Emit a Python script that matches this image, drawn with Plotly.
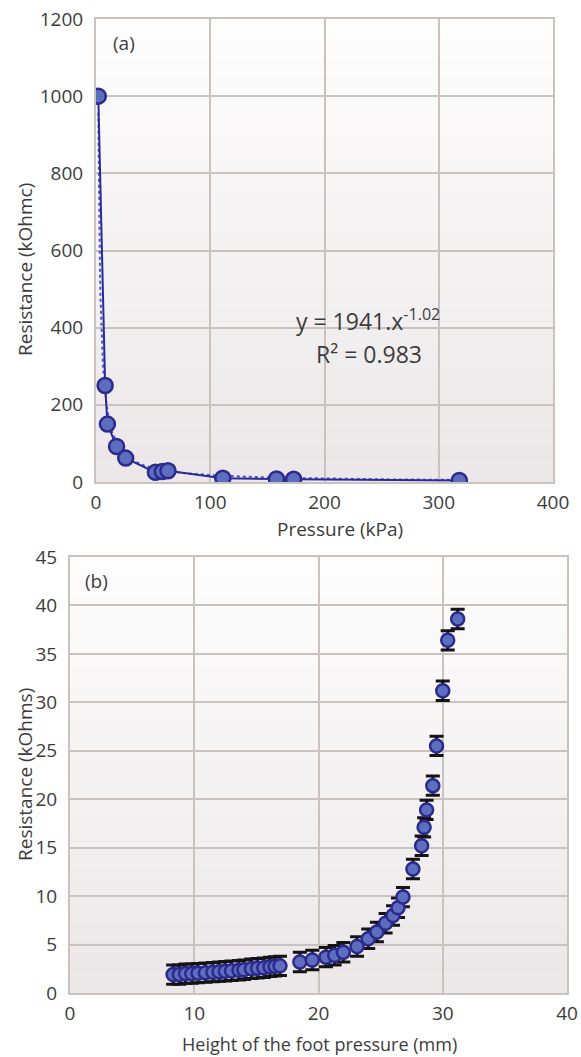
import plotly.graph_objects as go

# (a) resistance vs pressure
pressure = [2, 8, 10, 18, 26, 52, 58, 63, 111, 158, 173, 318]
resistance_a = [1000, 250, 150, 92, 62, 25, 27, 29, 10, 8, 7, 4]
fit_a, fit_b = 1941, -1.02

# (b) resistance vs height of foot pressure
height = [8.3, 8.8, 9.3, 9.8, 10.3, 10.9, 11.5, 12.0, 12.5, 13.0, 13.6, 14.0,
          14.6, 15.1, 15.6, 16.1, 16.5, 16.9, 18.5, 19.5, 20.6, 21.3, 22.0,
          23.1, 24.0, 24.7, 25.4, 26.0, 26.4, 26.8, 27.6, 28.3, 28.5, 28.7,
          29.2, 29.5, 30.0, 30.4, 31.2]
resistance_b = [1.9, 1.9, 2.0, 2.0, 2.05, 2.1, 2.15, 2.2, 2.25, 2.3, 2.35, 2.4,
                2.5, 2.55, 2.6, 2.7, 2.75, 2.8, 3.2, 3.4, 3.7, 3.9, 4.2,
                4.8, 5.6, 6.3, 7.2, 8.0, 8.8, 9.9, 12.8, 15.2, 17.1, 18.9,
                21.4, 25.5, 31.2, 36.4, 38.6]
err_b = [1.0] * len(height)

W, H = 581, 1057


def px(x):
    return x / W


def py(y):
    return 1 - y / H


font = "'Open Sans', sans-serif"
grid = "#c9c2be"
txt = "#3c3c3c"
fill = "#5b6ec0"
edge = "#2d2a8e"

fig = go.Figure()

# smooth power-law trendline for (a)
tx = [pressure[0] + i * 0.5 for i in range(0, 20)] + list(range(12, 321, 2))
ty = [fit_a * v ** fit_b for v in tx]
fig.add_trace(go.Scatter(x=tx, y=ty, mode="lines", xaxis="x", yaxis="y",
                         line=dict(color="#4a55d0", width=2, dash="dot"),
                         hoverinfo="skip"))
fig.add_trace(go.Scatter(x=pressure, y=resistance_a, mode="lines+markers",
                         xaxis="x", yaxis="y",
                         line=dict(color="#2b2b96", width=2),
                         marker=dict(size=15, color=fill,
                                     line=dict(color=edge, width=2.5))))

fig.add_trace(go.Scatter(x=height, y=resistance_b, mode="markers",
                         xaxis="x2", yaxis="y2",
                         error_y=dict(type="data", array=err_b, visible=True,
                                      color="#141414", thickness=3, width=7),
                         marker=dict(size=13, color=fill,
                                     line=dict(color=edge, width=2.5))))

# vertical gradient backgrounds
shapes = []
n = 24
for ax, ay in (("x", "y"), ("x2", "y2")):
    for i in range(n):
        t = i / (n - 1)
        r = int(254 - t * 18)
        g = int(253 - t * 21)
        b = int(253 - t * 19)
        shapes.append(dict(type="rect", layer="below", line_width=0,
                           xref=ax + " domain", yref=ay + " domain",
                           x0=0, x1=1, y0=1 - (i + 1) / n, y1=1 - i / n,
                           fillcolor=f"rgb({r},{g},{b})"))

ax_common = dict(showgrid=True, gridcolor=grid, gridwidth=2, showline=True,
                 linecolor=grid, linewidth=2, mirror=True, zeroline=False,
                 ticks="", automargin=False, ticklabeloverflow="allow",
                 tickfont=dict(family=font, size=19, color=txt))
xa = dict(ax_common, ticklabelstandoff=2)
ya = dict(ax_common, ticklabelstandoff=7)


def note(text, x, y, size=19, angle=0):
    return dict(text=text, x=px(x), y=py(y), xref="paper", yref="paper",
                xanchor="center", yanchor="middle", showarrow=False,
                textangle=angle, font=dict(family=font, size=size, color=txt))


fig.update_layout(
    width=W, height=H, margin=dict(l=0, r=0, t=0, b=0),
    paper_bgcolor="white", plot_bgcolor="rgba(0,0,0,0)",
    showlegend=False, shapes=shapes,
    xaxis=dict(xa, domain=[px(96), px(553)], range=[0, 400], dtick=100, anchor="y"),
    yaxis=dict(ya, domain=[py(482), py(19)], range=[0, 1200], dtick=200, anchor="x"),
    xaxis2=dict(xa, domain=[px(70), px(567)], range=[0, 40], dtick=10, anchor="y2"),
    yaxis2=dict(ya, domain=[py(993), py(557)], range=[0, 45], dtick=5, anchor="x2"),
    annotations=[
        note("Pressure (kPa)", 340, 529),
        note("Resistance (kOhmc)", 25, 270, angle=-90),
        note("Height of the foot pressure (mm)", 320, 1044, size=18),
        note("Resistance (kOhms)", 25, 775, angle=-90),
        note("(a)", 124, 43, size=19),
        note("(b)", 96, 581, size=19),
        note("y = 1941.x<sup>-1.02</sup>", 368, 320, size=23),
        note("R² = 0.983", 369, 354, size=23),
    ],
)

# drop the default page margin so the figure fills the window exactly
fig.write_html("out.html", config={"displayModeBar": False},
               post_script="document.body.style.margin='0';"
                           "document.body.style.overflow='hidden';")
